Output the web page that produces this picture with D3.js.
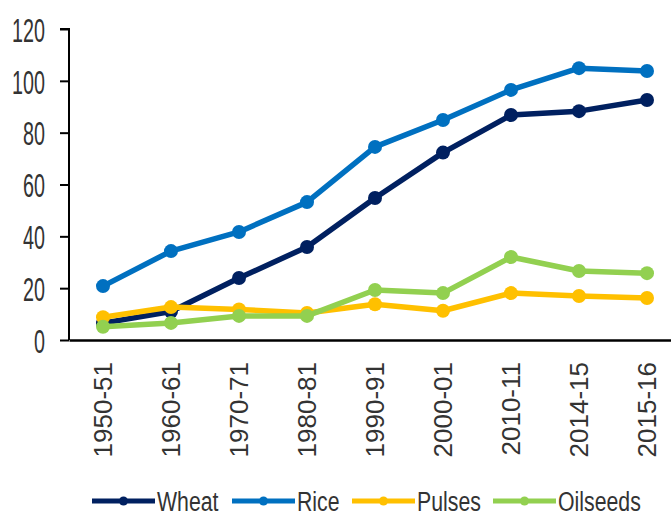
<!DOCTYPE html>
<html>
<head>
<meta charset="utf-8">
<script src="https://cdn.jsdelivr.net/npm/d3@7"></script>
<style>
  body { margin: 0; background: #fff; }
  text { font-family: "Liberation Sans", Arial, sans-serif; fill: #333; }
</style>
</head>
<body>
<div id="chart"></div>
<script>
const years = ["1950-51", "1960-61", "1970-71", "1980-81", "1990-91", "2000-01", "2010-11", "2014-15", "2015-16"];
const wheat = [6.5, 11.0, 23.9, 35.9, 54.8, 72.3, 86.8, 88.3, 92.6];
const rice = [20.8, 34.3, 41.7, 53.2, 74.5, 84.9, 96.5, 104.9, 103.8];
const pulses = [8.8, 12.7, 11.8, 10.4, 13.8, 11.3, 18.1, 17.0, 16.2];
const oilseeds = [5.1, 6.6, 9.3, 9.3, 19.3, 18.1, 32.0, 26.6, 25.8];
const yTicks = [0, 20, 40, 60, 80, 100, 120];

const seriesNames = ["Wheat", "Rice", "Pulses", "Oilseeds"];
const seriesValues = [wheat, rice, pulses, oilseeds];
const colors = ["#002060", "#0070c0", "#ffc000", "#92d050"];

const W = 671, H = 516;

const svg = d3.select("#chart")
  .append("svg")
  .attr("width", W)
  .attr("height", H);

const x = d3.scaleBand()
  .domain(years)
  .range([69, 681]);

const y = d3.scaleLinear()
  .domain([0, 120])
  .range([340, 29]);

// y axis, narrow labels squeezed sideways like the original
const yAxis = svg.append("g")
  .attr("transform", "translate(69,0)")
  .call(d3.axisLeft(y).tickValues(yTicks).tickSize(9));
yAxis.select(".domain").attr("stroke", "#000").attr("stroke-width", 2)
  .attr("d", `M-9,${y(120)}H0V${y(0)}`);
yAxis.selectAll(".tick line").attr("stroke", "#000").attr("stroke-width", 2);
yAxis.selectAll(".tick text")
  .style("font-size", "34px")
  .attr("fill", "#333")
  .attr("x", 0)
  .attr("dy", "0.36em")
  .attr("text-anchor", "end")
  .attr("transform", "translate(-24,0) scale(0.58,1)");

// x axis
const xAxis = svg.append("g")
  .attr("transform", "translate(0,340)")
  .call(d3.axisBottom(x).tickSize(0).tickPadding(0));
xAxis.select(".domain").attr("stroke", "#000").attr("stroke-width", 2.5);
xAxis.selectAll(".tick text")
  .style("font-size", "26px")
  .attr("fill", "#333")
  .attr("text-anchor", "end")
  .attr("transform", "translate(0,22) rotate(-90)")
  .attr("x", 0)
  .attr("y", 0)
  .attr("dy", "0.35em");

const line = d3.line()
  .x((d, i) => x(years[i]) + x.bandwidth() / 2)
  .y(d => y(d));

seriesValues.forEach((vals, k) => {
  const g = svg.append("g");
  g.append("path")
    .datum(vals)
    .attr("fill", "none")
    .attr("stroke", colors[k])
    .attr("stroke-width", 5.5)
    .attr("stroke-linejoin", "round")
    .attr("d", line);
  g.selectAll("circle")
    .data(vals)
    .enter()
    .append("circle")
    .attr("cx", (d, i) => x(years[i]) + x.bandwidth() / 2)
    .attr("cy", d => y(d))
    .attr("r", 7)
    .attr("fill", colors[k]);
});

// legend
const legendX = [92, 232, 352, 493];
const legend = svg.append("g").attr("transform", "translate(0,501)");
seriesNames.forEach((name, k) => {
  const item = legend.append("g").attr("transform", `translate(${legendX[k]},0)`);
  item.append("line")
    .attr("x1", 0).attr("x2", 63)
    .attr("stroke", colors[k])
    .attr("stroke-width", 5);
  item.append("circle")
    .attr("cx", 31.5)
    .attr("r", 4.5)
    .attr("fill", colors[k]);
  item.append("text")
    .attr("x", 0)
    .attr("dy", "0.36em")
    .attr("transform", "translate(65,0) scale(0.76,1)")
    .style("font-size", "28px")
    .text(name);
});
</script>
</body>
</html>
